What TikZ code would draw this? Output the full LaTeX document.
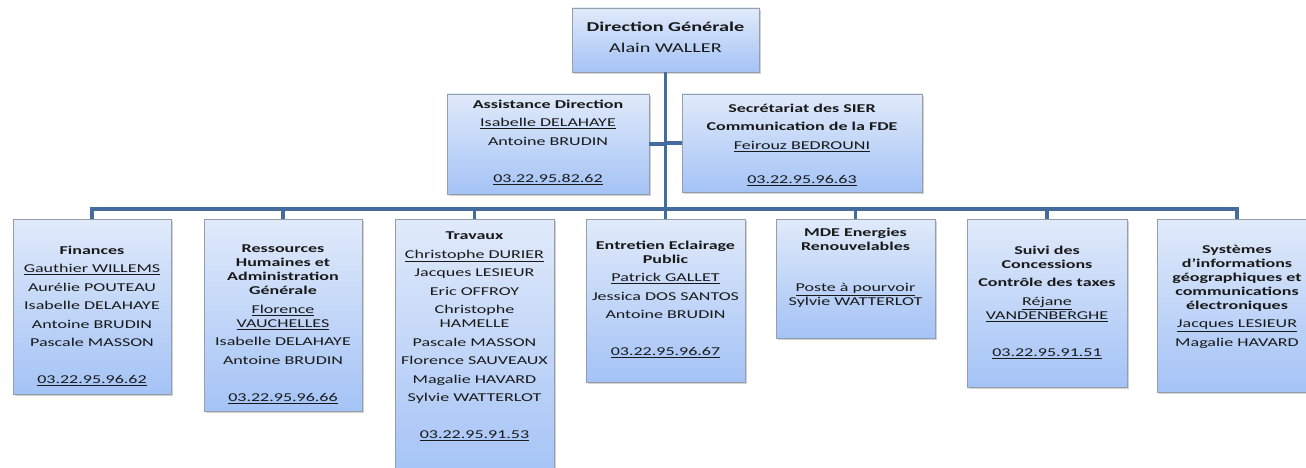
\documentclass[tikz,border=0pt]{standalone}
\usepackage{fontspec}
\setmainfont{Carlito}[FakeStretch=1.5]
\usetikzlibrary{positioning}
\usetikzlibrary{shadows}

\definecolor{boxtop}{RGB}{224,234,250}
\definecolor{boxbottom}{RGB}{164,195,246}
\definecolor{boxline}{RGB}{150,158,172}
\definecolor{linkblue}{RGB}{68,108,158}

\newcommand{\gap}{\\[4.5pt]}
\newcommand{\blank}{\\[23pt]}

\begin{document}
\begin{tikzpicture}[
      x = 1pt, y = -1pt,
      unit/.style = {
        rectangle, draw = boxline, inner sep = 0,
        top color = boxtop, bottom color = boxbottom,
        drop shadow = {shadow xshift = 2pt, shadow yshift = -2pt, opacity = .35}
      },
      txt/.style = {
        inner sep = 0, align = center, text = black!90,
        font = \fontsize{12}{14}\selectfont
      },
      link/.style = { draw = linkblue, line width = 3.5pt },
    ]

    \useasboundingbox[fill = white] (0,0) rectangle (1306,468);

    %% direction
    \node[unit, minimum width = 187pt, minimum height = 64pt] (dg) at (665.5,40) {};
    \node[txt, font = {\fontsize{13.5}{16}\selectfont}, below = 14.5pt of dg.north] (dg-t)
      {\textbf{Direction Générale}\\[5pt] Alain WALLER};

    \node[unit, minimum width = 202pt, minimum height = 100pt] (asst) at (548,144) {};
    \node[txt, below = 6pt of asst.north] (asst-t)
      {\textbf{Assistance Direction}\gap \underline{Isabelle DELAHAYE}\gap Antoine BRUDIN\blank \underline{03.22.95.82.62}};

    \node[unit, minimum width = 240pt, minimum height = 98pt] (secr) at (802,143) {};
    \node[txt, below = 10pt of secr.north] (secr-t)
      {\textbf{Secrétariat des SIER}\gap \textbf{Communication de la FDE}\gap \underline{Feirouz BEDROUNI}\\[20pt] \underline{03.22.95.96.63}};

    %% services
    \node[unit, minimum width = 158pt, minimum height = 175pt] (fin) at (92,306.5) {};
    \node[txt, below = 27pt of fin.north] (fin-t)
      {\textbf{Finances}\gap \underline{Gauthier WILLEMS}\gap Aurélie POUTEAU\gap Isabelle DELAHAYE\gap
       Antoine BRUDIN\gap Pascale MASSON\blank \underline{03.22.95.96.62}};

    \node[unit, minimum width = 158pt, minimum height = 192pt] (rh) at (283,315) {};
    \node[txt, below = 26pt of rh.north] (rh-t)
      {\textbf{Ressources}\\ \textbf{Humaines et}\\ \textbf{Administration}\\ \textbf{Générale}\gap
       \underline{Florence}\\ \underline{VAUCHELLES}\gap Isabelle DELAHAYE\gap Antoine BRUDIN\blank \underline{03.22.95.96.66}};

    \node[unit, minimum width = 159pt, minimum height = 259pt] (trav) at (474.5,348.5) {};
    \node[txt, below = 13pt of trav.north] (trav-t)
      {\textbf{Travaux}\gap \underline{Christophe DURIER}\gap Jacques LESIEUR\gap Eric OFFROY\gap Christophe\\ HAMELLE\gap
       Pascale MASSON\gap Florence SAUVEAUX\gap Magalie HAVARD\gap Sylvie WATTERLOT\blank \underline{03.22.95.91.53}};

    \node[unit, minimum width = 159pt, minimum height = 163pt] (ent) at (665.5,300.5) {};
    \node[txt, below = 22pt of ent.north] (ent-t)
      {\textbf{Entretien Eclairage}\\ \textbf{Public}\gap \underline{Patrick GALLET}\gap Jessica DOS SANTOS\gap
       Antoine BRUDIN\blank \underline{03.22.95.96.67}};

    \node[unit, minimum width = 159pt, minimum height = 119pt] (mde) at (855.5,278.5) {};
    \node[txt, below = 9pt of mde.north] (mde-t)
      {\textbf{MDE Energies}\\ \textbf{Renouvelables}\\[27pt] \underline{Poste à pourvoir}\\ Sylvie WATTERLOT};

    \node[unit, minimum width = 160pt, minimum height = 168pt] (suiv) at (1047,303) {};
    \node[txt, below = 27pt of suiv.north] (suiv-t)
      {\textbf{Suivi des}\\ \textbf{Concessions}\gap \textbf{Contrôle des taxes}\gap
       \underline{Réjane}\\ \underline{VANDENBERGHE}\blank \underline{03.22.95.91.51}};

    \node[unit, minimum width = 160pt, minimum height = 173pt] (sys) at (1237,305.5) {};
    \node[txt, below = 26pt of sys.north] (sys-t)
      {\textbf{Systèmes}\\ \textbf{d’informations}\\ \textbf{géographiques et}\\ \textbf{communications}\\
       \textbf{électroniques}\gap \underline{Jacques LESIEUR}\gap Magalie HAVARD};

    %% connectors
    \coordinate (bus) at (665.5,209);
    \draw[link] (dg.south) -- (ent.north);
    \draw[link] (asst.east) -- (asst.east -| dg.south);
    \draw[link] (secr.west) -- (secr.west -| dg.south);
    \draw[link] (fin.north) |- (bus) -| (sys.north);
    \foreach \d in {rh, trav, mde, suiv} {
      \draw[link] (\d.north) -- (\d.north |- bus);
    }
  \end{tikzpicture}
\end{document}
